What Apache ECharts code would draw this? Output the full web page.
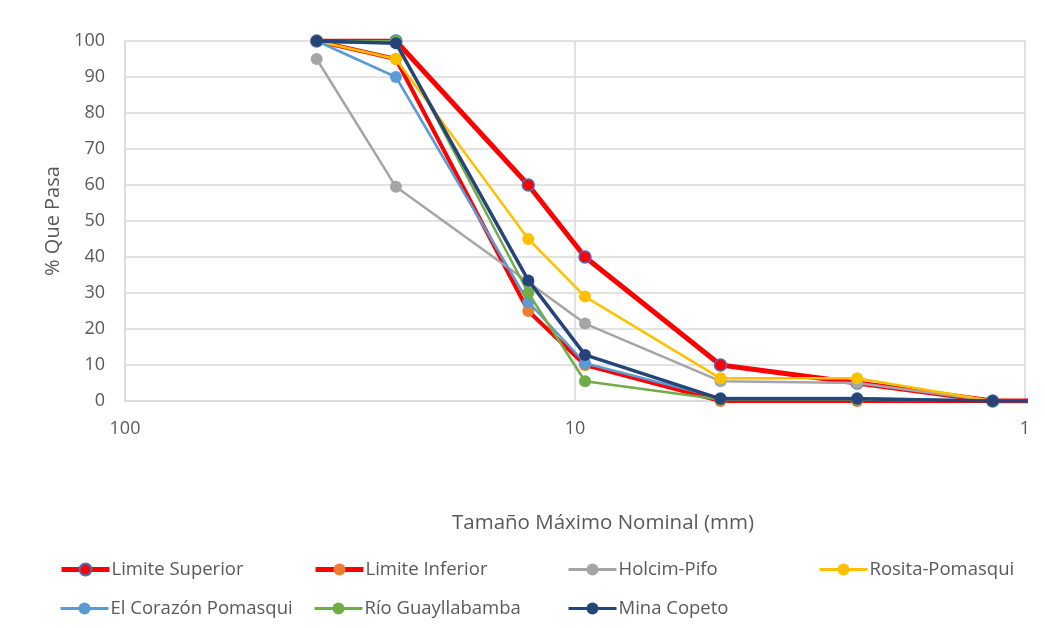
<!DOCTYPE html>
<html>
<head>
<meta charset="utf-8">
<script src="https://cdn.jsdelivr.net/npm/echarts@6/dist/echarts.min.js"></script>
<style>html,body{margin:0;padding:0;background:#fff}#c{width:1045px;height:628px}</style>
</head>
<body>
<div id="c"></div>
<script>
// Sieve sizes (mm)
var sizes = [37.5, 25, 12.7, 9.5, 4.75, 2.36, 1.18, 0.6];
var limiteSuperior = [100, 100, 60, 40, 10, 5, 0, 0];
var limiteInferior = [100, 95, 25, 10, 0, 0, 0, 0];
var holcimPifo = [95, 59.5, 33, 21.5, 5.5, 5, 0, 0];
var rositaPomasqui = [100, 95, 45, 29, 6.3, 6.3, 0, 0];
var elCorazon = [100, 90, 27.5, 10.5, 0.8, 0.8, 0, 0];
var rioGuayllabamba = [100, 100, 30, 5.5, 0.4, 0.4, 0, 0];
var minaCopeto = [100, 99.4, 33.5, 12.8, 0.6, 0.6, 0, 0];

var seriesNames = ['Limite Superior', 'Limite Inferior', 'Holcim-Pifo', 'Rosita-Pomasqui',
  'El Corazón Pomasqui', 'Río Guayllabamba', 'Mina Copeto'];
var seriesValues = [limiteSuperior, limiteInferior, holcimPifo, rositaPomasqui, elCorazon, rioGuayllabamba, minaCopeto];

var FONT = 'Open Sans';
var TXT = '#595959';

var styles = [
  {line: '#FF0000', fill: '#FF0000', border: '#4472C4', bw: 1.5, lw: 5, llw: 5},
  {line: '#FF0000', fill: '#ED7D31', border: '#ED7D31', bw: 0, lw: 4, llw: 5},
  {line: '#A5A5A5', fill: '#A5A5A5', border: '#A5A5A5', bw: 0, lw: 2.5, llw: 3},
  {line: '#FFC000', fill: '#FFC000', border: '#FFC000', bw: 0, lw: 2.5, llw: 3},
  {line: '#5B9BD5', fill: '#5B9BD5', border: '#5B9BD5', bw: 0, lw: 2.5, llw: 3},
  {line: '#70AD47', fill: '#70AD47', border: '#70AD47', bw: 0, lw: 2.5, llw: 3},
  {line: '#264478', fill: '#264478', border: '#264478', bw: 0, lw: 3.5, llw: 3}
];

var series = seriesNames.map(function (n, i) {
  var s = styles[i];
  return {
    name: n,
    type: 'line',
    clip: true,
    symbol: 'circle',
    symbolSize: 12,
    showAllSymbol: true,
    data: sizes.map(function (x, j) { return [x, seriesValues[i][j]]; }),
    lineStyle: {color: s.line, width: s.lw},
    itemStyle: {color: s.fill, borderColor: s.border, borderWidth: s.bw},
    emphasis: {disabled: true},
    z: 2 + i
  };
});

var legendPos = [
  [59, 560], [313, 560], [567, 560], [818, 560],
  [59, 599], [313, 599], [567, 599]
];
var legends = seriesNames.map(function (n, i) {
  return {
    data: [n],
    left: legendPos[i][0],
    top: legendPos[i][1],
    padding: 0,
    itemWidth: 48,
    itemHeight: 15,
    itemGap: 0,
    lineStyle: {width: styles[i].llw},
    textStyle: {fontFamily: FONT, fontSize: 18.5, color: TXT, padding: [0, 0, 0, -3]},
    selectedMode: false
  };
});

var chart = echarts.init(document.getElementById('c'), null, {renderer: 'canvas'});
chart.setOption({
  animation: false,
  backgroundColor: '#fff',
  textStyle: {fontFamily: FONT},
  title: {
    text: 'Tamaño Máximo Nominal (mm)',
    left: 447, top: 508,
    textStyle: {fontFamily: FONT, fontSize: 20.5, fontWeight: 'normal', color: TXT}
  },
  legend: legends,
  grid: {left: 125, right: 20, top: 41, height: 360, containLabel: false},
  xAxis: {
    type: 'log',
    logBase: 10,
    min: 1,
    max: 100,
    inverse: true,
    axisLine: {show: true, lineStyle: {color: '#D9D9D9', width: 1.5}},
    axisTick: {show: false},
    axisLabel: {fontFamily: FONT, fontSize: 18, color: TXT, margin: 19},
    splitLine: {show: true, lineStyle: {color: '#D9D9D9', width: 1.5}},
    minorSplitLine: {show: false}
  },
  yAxis: {
    type: 'value',
    min: 0, max: 100, interval: 10,
    name: '% Que Pasa',
    nameLocation: 'middle',
    nameGap: 56,
    nameTextStyle: {fontFamily: FONT, fontSize: 20, color: TXT},
    axisLine: {show: true, lineStyle: {color: '#D9D9D9', width: 1.5}},
    axisTick: {show: false},
    axisLabel: {fontFamily: FONT, fontSize: 18, color: TXT, margin: 20},
    splitLine: {show: true, lineStyle: {color: '#D9D9D9', width: 1.5}}
  },
  series: series
});
</script>
</body>
</html>
